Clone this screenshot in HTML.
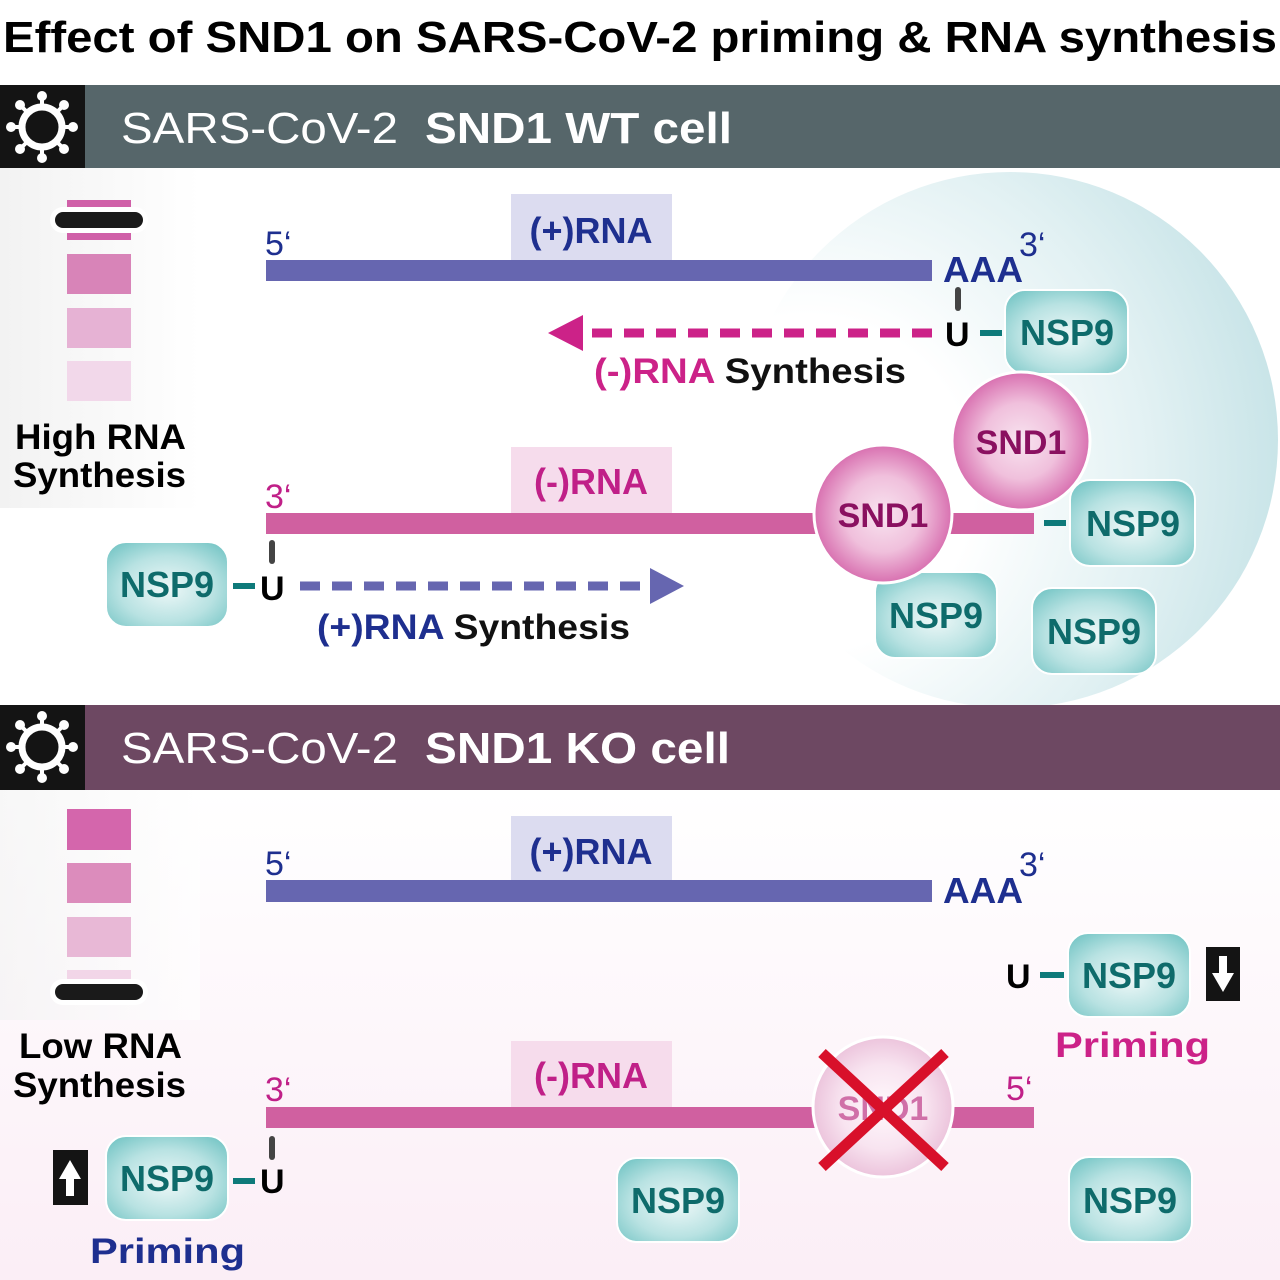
<!DOCTYPE html>
<html><head><meta charset="utf-8"><style>html,body{margin:0;padding:0;background:#fff}svg{display:block}</style></head>
<body>
<svg width="1280" height="1280" viewBox="0 0 1280 1280" xmlns="http://www.w3.org/2000/svg" font-family="Liberation Sans, sans-serif">
<defs>
<radialGradient id="nsp" cx="50%" cy="55%" r="65%"><stop offset="0" stop-color="#eef8f8"/><stop offset="0.6" stop-color="#b8e2e2"/><stop offset="1" stop-color="#7cc8c8"/></radialGradient>
<radialGradient id="snd" cx="50%" cy="50%" r="50%"><stop offset="0" stop-color="#f8e4f0"/><stop offset="0.55" stop-color="#f0c0dc"/><stop offset="1" stop-color="#d870b0"/></radialGradient>
<radialGradient id="sndko" cx="50%" cy="50%" r="50%"><stop offset="0" stop-color="#fff8fc"/><stop offset="0.6" stop-color="#f8e4f0"/><stop offset="1" stop-color="#ecc4dc"/></radialGradient>
<radialGradient id="cell" cx="15%" cy="55%" r="90%" fx="10%" fy="60%"><stop offset="0" stop-color="#ffffff"/><stop offset="0.35" stop-color="#ffffff"/><stop offset="0.7" stop-color="#e2f1f3"/><stop offset="1" stop-color="#c4e2e6"/></radialGradient>
<linearGradient id="kobg" x1="0" y1="0" x2="0" y2="1"><stop offset="0" stop-color="#ffffff"/><stop offset="1" stop-color="#fbeef6"/></linearGradient>
<linearGradient id="gel" x1="0" y1="0" x2="1" y2="0"><stop offset="0" stop-color="#f2f2f2"/><stop offset="1" stop-color="#ffffff"/></linearGradient>
<clipPath id="wtclip"><rect x="0" y="168" width="1280" height="537"/></clipPath>
</defs>
<rect width="1280" height="1280" fill="#fff"/>
<text x="640" y="52" font-size="44" font-weight="bold" text-anchor="middle" textLength="1274" lengthAdjust="spacingAndGlyphs">Effect of SND1 on SARS-CoV-2 priming &amp; RNA synthesis</text>

<!-- WT header -->
<rect x="0" y="85" width="1280" height="83" fill="#56666a"/>
<rect x="0" y="85" width="85" height="83" fill="#141414"/>
<g transform="translate(42,127)" fill="#fff">
<circle r="20" fill="none" stroke="#fff" stroke-width="7"/>
<g stroke="#fff" stroke-width="4">
<line x1="0" y1="-22" x2="0" y2="-29"/><line x1="0" y1="22" x2="0" y2="29"/><line x1="-22" y1="0" x2="-29" y2="0"/><line x1="22" y1="0" x2="29" y2="0"/>
<line x1="16" y1="16" x2="21" y2="21"/><line x1="-16" y1="16" x2="-21" y2="21"/><line x1="16" y1="-16" x2="21" y2="-21"/><line x1="-16" y1="-16" x2="-21" y2="-21"/></g>
<circle cx="0" cy="-31" r="5"/><circle cx="0" cy="31" r="5"/><circle cx="-31" cy="0" r="5"/><circle cx="31" cy="0" r="5"/>
<circle cx="22" cy="22" r="5"/><circle cx="-22" cy="22" r="5"/><circle cx="22" cy="-22" r="5"/><circle cx="-22" cy="-22" r="5"/>
</g>
<text x="121" y="143" font-size="44" fill="#fff" textLength="277" lengthAdjust="spacingAndGlyphs">SARS-CoV-2</text>
<text x="425" y="143" font-size="44" fill="#fff" font-weight="bold" textLength="307" lengthAdjust="spacingAndGlyphs">SND1 WT cell</text>

<!-- WT body -->
<rect x="0" y="168" width="200" height="340" fill="url(#gel)"/>
<g clip-path="url(#wtclip)"><circle cx="1010" cy="440" r="268" fill="url(#cell)"/></g>
<rect x="67" y="200" width="64" height="40" fill="#d060a8"/>
<rect x="67" y="254" width="64" height="40" fill="#d884b8"/>
<rect x="67" y="308" width="64" height="40" fill="#e6b2d4"/>
<rect x="67" y="361" width="64" height="40" fill="#f2d8ea"/>
<rect x="50" y="207" width="98" height="26" rx="13" fill="#fff"/>
<rect x="55" y="212" width="88" height="16" rx="8" fill="#1a1a1a"/>
<text x="15" y="449" font-size="35" font-weight="bold" textLength="171" lengthAdjust="spacingAndGlyphs">High RNA</text>
<text x="13" y="487" font-size="35" font-weight="bold" textLength="173" lengthAdjust="spacingAndGlyphs">Synthesis</text>

<rect x="511" y="194" width="161" height="66" fill="#dcdcf0"/>
<text x="591" y="243" font-size="36" font-weight="bold" fill="#1e2f8f" text-anchor="middle">(+)RNA</text>
<text x="265" y="255" font-size="34" fill="#1e2f8f">5‘</text>
<rect x="266" y="260" width="666" height="21" fill="#6666b0"/>
<text x="943" y="282" font-size="36" font-weight="bold" fill="#1e2f8f" textLength="80" lengthAdjust="spacingAndGlyphs">AAA</text>
<text x="1019" y="256" font-size="34" fill="#1e2f8f">3‘</text>
<rect x="955" y="287" width="6" height="24" rx="3" fill="#444"/>
<text x="945" y="346" font-size="34" font-weight="bold">U</text>
<rect x="980" y="330" width="22" height="6" fill="#0e7a7a"/>
<line x1="932" y1="333" x2="585" y2="333" stroke="#cc2288" stroke-width="9" stroke-dasharray="20,12"/>
<polygon points="548,333 583,315 583,351" fill="#cc2288"/>
<text x="594" y="383" font-size="35" font-weight="bold" fill="#cc2288" textLength="312" lengthAdjust="spacingAndGlyphs">(-)RNA <tspan fill="#111">Synthesis</tspan></text>

<rect x="511" y="447" width="161" height="66" fill="#f6dcec"/>
<text x="591" y="494" font-size="36" font-weight="bold" fill="#c02088" text-anchor="middle">(-)RNA</text>
<text x="265" y="508" font-size="34" fill="#c02088">3‘</text>
<rect x="266" y="513" width="768" height="21" fill="#d060a0"/>
<rect x="1044" y="520" width="22" height="6" fill="#0e7a7a"/>
<rect x="269" y="540" width="6" height="24" rx="3" fill="#444"/>
<text x="260" y="600" font-size="34" font-weight="bold">U</text>
<rect x="233" y="583" width="22" height="6" fill="#0e7a7a"/>
<line x1="300" y1="586" x2="650" y2="586" stroke="#6666b0" stroke-width="9" stroke-dasharray="20,12"/>
<polygon points="684,586 650,568 650,604" fill="#6666b0"/>
<text x="317" y="639" font-size="35" font-weight="bold" fill="#1e2f8f" textLength="313" lengthAdjust="spacingAndGlyphs">(+)RNA <tspan fill="#111">Synthesis</tspan></text>

<g font-size="36" font-weight="bold" fill="#0e6b6b" text-anchor="middle">
<rect x="1005" y="290" width="123" height="84" rx="20" fill="url(#nsp)" stroke="#fff" stroke-width="2"/><text x="1067" y="345">NSP9</text>
<rect x="1070" y="480" width="125" height="86" rx="20" fill="url(#nsp)" stroke="#fff" stroke-width="2"/><text x="1133" y="536">NSP9</text>
<rect x="875" y="572" width="122" height="86" rx="20" fill="url(#nsp)" stroke="#fff" stroke-width="2"/><text x="936" y="628">NSP9</text>
<rect x="1032" y="588" width="124" height="86" rx="20" fill="url(#nsp)" stroke="#fff" stroke-width="2"/><text x="1094" y="644">NSP9</text>
<rect x="106" y="542" width="122" height="85" rx="20" fill="url(#nsp)" stroke="#fff" stroke-width="2"/><text x="167" y="597">NSP9</text>
</g>
<g font-size="34" font-weight="bold" fill="#8a1060" text-anchor="middle">
<circle cx="1021" cy="441" r="69" fill="url(#snd)" stroke="#fff" stroke-width="3"/><text x="1021" y="454">SND1</text>
<circle cx="883" cy="514" r="69" fill="url(#snd)" stroke="#fff" stroke-width="3"/><text x="883" y="527">SND1</text>
</g>

<!-- KO header -->
<rect x="0" y="705" width="1280" height="85" fill="#6d4862"/>
<rect x="0" y="705" width="85" height="85" fill="#141414"/>
<g transform="translate(42,747)" fill="#fff">
<circle r="20" fill="none" stroke="#fff" stroke-width="7"/>
<g stroke="#fff" stroke-width="4">
<line x1="0" y1="-22" x2="0" y2="-29"/><line x1="0" y1="22" x2="0" y2="29"/><line x1="-22" y1="0" x2="-29" y2="0"/><line x1="22" y1="0" x2="29" y2="0"/>
<line x1="16" y1="16" x2="21" y2="21"/><line x1="-16" y1="16" x2="-21" y2="21"/><line x1="16" y1="-16" x2="21" y2="-21"/><line x1="-16" y1="-16" x2="-21" y2="-21"/></g>
<circle cx="0" cy="-31" r="5"/><circle cx="0" cy="31" r="5"/><circle cx="-31" cy="0" r="5"/><circle cx="31" cy="0" r="5"/>
<circle cx="22" cy="22" r="5"/><circle cx="-22" cy="22" r="5"/><circle cx="22" cy="-22" r="5"/><circle cx="-22" cy="-22" r="5"/>
</g>
<text x="121" y="763" font-size="44" fill="#fff" textLength="277" lengthAdjust="spacingAndGlyphs">SARS-CoV-2</text>
<text x="425" y="763" font-size="44" fill="#fff" font-weight="bold" textLength="305" lengthAdjust="spacingAndGlyphs">SND1 KO cell</text>

<!-- KO body -->
<rect x="0" y="790" width="1280" height="490" fill="url(#kobg)"/>
<rect x="0" y="790" width="200" height="230" fill="url(#gel)" opacity="0.6"/>
<rect x="67" y="809" width="64" height="41" fill="#d466ac"/>
<rect x="67" y="863" width="64" height="40" fill="#dc8cbc"/>
<rect x="67" y="917" width="64" height="40" fill="#e8b8d6"/>
<rect x="67" y="970" width="64" height="30" fill="#f2d6e8"/>
<rect x="50" y="979" width="98" height="26" rx="13" fill="#fff"/>
<rect x="55" y="984" width="88" height="16" rx="8" fill="#1a1a1a"/>
<text x="19" y="1058" font-size="35" font-weight="bold" textLength="163" lengthAdjust="spacingAndGlyphs">Low RNA</text>
<text x="13" y="1097" font-size="35" font-weight="bold" textLength="173" lengthAdjust="spacingAndGlyphs">Synthesis</text>

<rect x="511" y="816" width="161" height="66" fill="#dcdcf0"/>
<text x="591" y="864" font-size="36" font-weight="bold" fill="#1e2f8f" text-anchor="middle">(+)RNA</text>
<text x="265" y="875" font-size="34" fill="#1e2f8f">5‘</text>
<rect x="266" y="880" width="666" height="22" fill="#6666b0"/>
<text x="943" y="903" font-size="36" font-weight="bold" fill="#1e2f8f" textLength="80" lengthAdjust="spacingAndGlyphs">AAA</text>
<text x="1019" y="876" font-size="34" fill="#1e2f8f">3‘</text>

<text x="1006" y="988" font-size="34" font-weight="bold">U</text>
<rect x="1040" y="972" width="24" height="6" fill="#0e7a7a"/>
<rect x="1206" y="947" width="34" height="54" fill="#141414"/>
<polygon points="1223,992 1212,973 1219,973 1219,956 1227,956 1227,973 1234,973" fill="#fff"/>
<text x="1055" y="1057" font-size="35" font-weight="bold" fill="#cc2288" textLength="155" lengthAdjust="spacingAndGlyphs">Priming</text>

<rect x="511" y="1041" width="161" height="66" fill="#f6dcec"/>
<text x="591" y="1088" font-size="36" font-weight="bold" fill="#c02088" text-anchor="middle">(-)RNA</text>
<text x="265" y="1101" font-size="34" fill="#c02088">3‘</text>
<rect x="266" y="1107" width="768" height="21" fill="#d060a0"/>
<text x="1006" y="1100" font-size="34" fill="#c02088">5‘</text>
<circle cx="883" cy="1107" r="70" fill="url(#sndko)" stroke="#fff" stroke-width="3"/>
<text x="883" y="1120" font-size="34" font-weight="bold" fill="#d070a8" text-anchor="middle">SND1</text>
<g stroke="#d8102a" stroke-width="11"><line x1="822" y1="1053" x2="945" y2="1167"/><line x1="945" y1="1053" x2="822" y2="1167"/></g>

<rect x="269" y="1136" width="6" height="24" rx="3" fill="#444"/>
<text x="260" y="1193" font-size="34" font-weight="bold">U</text>
<rect x="233" y="1178" width="22" height="6" fill="#0e7a7a"/>
<rect x="53" y="1150" width="35" height="55" fill="#141414"/>
<polygon points="70,1160 81,1179 74,1179 74,1196 66,1196 66,1179 59,1179" fill="#fff"/>
<text x="90" y="1263" font-size="35" font-weight="bold" fill="#1e2f8f" textLength="155" lengthAdjust="spacingAndGlyphs">Priming</text>

<g font-size="36" font-weight="bold" fill="#0e6b6b" text-anchor="middle">
<rect x="1068" y="933" width="122" height="84" rx="20" fill="url(#nsp)" stroke="#fff" stroke-width="2"/><text x="1129" y="988">NSP9</text>
<rect x="106" y="1136" width="122" height="84" rx="20" fill="url(#nsp)" stroke="#fff" stroke-width="2"/><text x="167" y="1191">NSP9</text>
<rect x="617" y="1158" width="122" height="84" rx="20" fill="url(#nsp)" stroke="#fff" stroke-width="2"/><text x="678" y="1213">NSP9</text>
<rect x="1069" y="1157" width="123" height="85" rx="20" fill="url(#nsp)" stroke="#fff" stroke-width="2"/><text x="1130" y="1213">NSP9</text>
</g>
</svg>
</body></html>
